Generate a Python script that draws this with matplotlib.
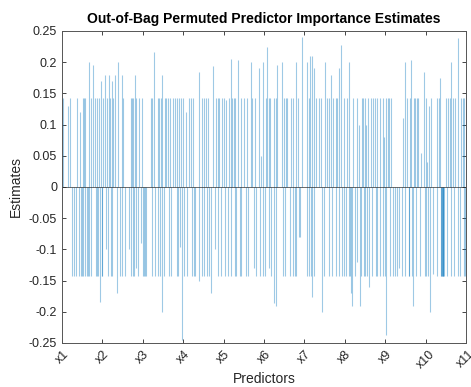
import numpy as np
import matplotlib
matplotlib.use('Agg')
import matplotlib.pyplot as plt

plt.rcParams['font.family'] = ['Liberation Sans', 'DejaVu Sans']

# predictor importance (most predictors are 0)
n_pred = 1000
tick_names = ['x1', 'x2', 'x3', 'x4', 'x5', 'x6', 'x7', 'x8', 'x9', 'x10', 'x11']

pos_idx = [3, 16, 20, 36, 45, 51, 54, 57, 68, 73, 76, 82, 87, 92, 96, 102, 106, 112, 116, 119, 123, 127, 131, 139,
           149, 151, 170, 173, 176, 180, 184, 190, 198, 221, 224, 228, 238, 241, 244, 248, 254, 258, 262, 267, 275, 279, 285,
           289, 294, 299, 307, 314, 319, 325, 338, 346, 351, 356, 361, 374, 381, 385, 389, 396, 402, 406, 414, 418, 422,
           426, 429, 436, 442, 450, 457, 467, 471, 477, 488, 492, 498, 504, 508, 512, 515, 525, 529, 533, 545, 549, 554, 558, 566, 571,
           579, 584, 594, 606, 611, 615, 620, 625, 629, 635, 642, 652, 656, 662, 667, 672, 677, 681, 685, 691, 697, 705, 710,
           721, 729, 736, 742, 746, 750, 753, 758, 764, 769, 775, 779, 787, 794, 797, 802, 806, 810, 814, 845, 849, 855,
           861, 865, 871, 874, 878, 881, 888, 896, 902, 904, 908, 914, 929, 932, 935, 951, 955, 960, 964, 968, 972, 980, 988, 992, 995]
pos_val = [.143, .13, .143, .143, .12, .143, .143, .143, .2, .143, .195, .143, .143, .143, .17, .143, .18, .143, .18, .143, .17, .143, .18, .2,
           .18, .143, .143, .143, .143, .18, .143, .143, .143, .143, .143, .217, .143, .143, .143, .18, .143, .143, .143, .143, .143, .143, .143,
           .143, .143, .143, .12, .143, .143, .143, .185, .143, .143, .143, .143, .194, .143, .143, .143, .143, .143, .14, .143, .205, .143,
           .143, .143, .203, .143, .143, .143, .2, .143, .143, .19, .05, .2, .143, .225, .143, .143, .143, .143, .195, .2, .143, .143, .143, .143, .143,
           .2, .143, .24, .2, .143, .21, .21, .19, .143, .143, .143, .2, .143, .143, .18, .143, .143, .143, .19, .228, .143, .143, .2,
           .143, .143, .1, .143, .143, .143, .1, .143, .143, .143, .143, .143, .143, .143, .08, .143, .143, .143, .143, .11, .2, .143,
           .143, .203, .143, .143, .143, .143, .055, .185, .143, .04, .13, .143, .143, .143, .175, .143, .143, .143, .2, .143, .143, .238, .143, .143, .143]

neg_idx = [26, 30, 35, 41, 46, 49, 53, 56, 61, 64, 66, 71, 84, 86, 90, 94, 98, 100, 110, 114, 121, 125, 137,
           143, 148, 155, 165, 172, 175, 178, 183, 189, 195, 200, 203, 206, 209, 223, 230, 237, 243, 247, 253, 266, 270, 284,
           287, 292, 297, 303, 309, 322, 327, 330, 339, 347, 352, 358, 363, 369, 379, 386, 393, 403, 410, 419, 427,
           430, 441, 444, 455, 460, 475, 479, 490, 497, 503, 513, 518, 524, 530, 546, 553, 565, 572,
           576, 580, 586, 590, 607, 612, 616, 618, 624, 644, 648, 660, 668, 678, 686, 692, 698, 702, 711, 716,
           714, 717, 725, 731, 737, 741, 747, 751, 754, 759, 767, 776, 780, 788, 795, 799, 801, 811, 820, 824, 828, 835, 841, 850, 860,
           858, 866, 870, 877, 885, 898, 900, 907, 912, 918, 928, 938, 939, 940, 941, 942, 943, 944, 945, 954, 962, 971, 979, 986, 994, 997]
neg_val = [-.143, -.143, -.143, -.143, -.143, -.143, -.143, -.143, -.143, -.143, -.143, -.143, -.143, -.143, -.143, -.185, -.143, -.143, -.1, -.143, -.143, -.143, -.17,
           -.143, -.143, -.143, -.1, -.143, -.143, -.143, -.13, -.143, -.09, -.143, -.143, -.143, -.143, -.143, -.143, -.143, -.143, -.2, -.143, -.143, -.143, -.143,
           -.143, -.096, -.245, -.143, -.143, -.143, -.143, -.143, -.15, -.143, -.143, -.143, -.143, -.17, -.1, -.143, -.143, -.143, -.143, -.143, -.143,
           -.143, -.143, -.143, -.143, -.143, -.13, -.143, -.143, -.143, -.143, -.13, -.143, -.186, -.19, -.143, -.143, -.143, -.143,
           -.143, -.143, -.08, -.08, -.143, -.143, -.143, -.176, -.143, -.2, -.143, -.143, -.143, -.143, -.143, -.143, -.143, -.143, -.143, -.17,
           -.143, -.19, -.143, -.12, -.19, -.143, -.143, -.143, -.143, -.16, -.143, -.143, -.143, -.143, -.143, -.143, -.237, -.143, -.143, -.143, -.143, -.13, -.143, -.143, -.143,
           -.143, -.143, -.19, -.143, -.143, -.143, -.143, -.143, -.2, -.14, -.143, -.143, -.143, -.143, -.143, -.143, -.143, -.143, -.143, -.143, -.143, -.143, -.143, -.143, -.143, -.143]

imp = np.zeros(n_pred)
imp[pos_idx] = pos_val
imp[neg_idx] = neg_val

fig = plt.figure(figsize=(4.71, 3.87), dpi=100)
ax = fig.add_axes([0.1316, 0.1137, 0.8578, 0.8063])

# bars are far thinner than a pixel, so draw each as a thin line from 0
x = np.arange(n_pred)
nz = imp != 0
ax.vlines(x[nz], 0, imp[nz], color='#0072BD', linewidth=0.8, alpha=0.38)
ax.axhline(0, color='#262626', linewidth=0.6, alpha=0.8)

ax.set_xlim(0, n_pred)
ax.set_ylim(-0.25, 0.25)
yt = np.arange(-0.25, 0.2501, 0.05)
ax.set_yticks(yt)
ax.set_yticklabels(['%g' % (round(v, 2) + 0.0) for v in yt])
ax.set_xticks(np.linspace(0, n_pred, len(tick_names)))
ax.set_xticklabels(tick_names, rotation=45, ha='center', va='top')

ax.tick_params(direction='in', top=True, right=True, length=3, width=0.6, labelsize=9, colors='#262626')
for s in ax.spines.values():
    s.set_color('#555555')
    s.set_linewidth(0.7)

ax.set_title('Out-of-Bag Permuted Predictor Importance Estimates', fontsize=10, fontweight='bold', pad=6)
ax.set_xlabel('Predictors', fontsize=10, color='#262626', labelpad=1)
ax.set_ylabel('Estimates', fontsize=10, color='#262626')

fig.savefig('out.png', dpi=100)
